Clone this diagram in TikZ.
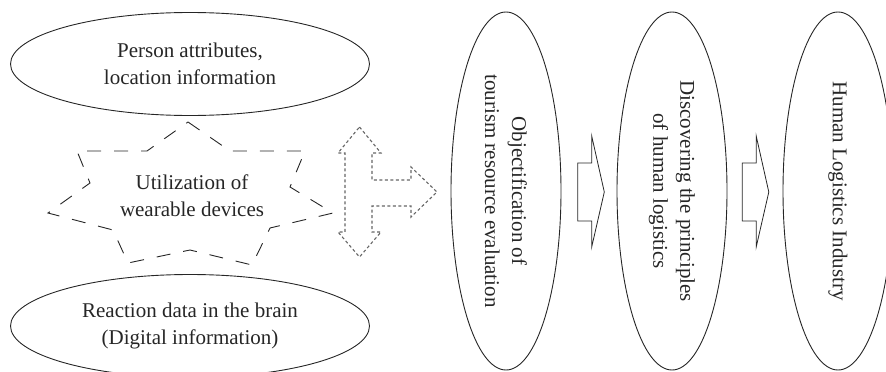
\documentclass[tikz,border=0pt]{standalone}
\usepackage{fontspec}
\setmainfont{Liberation Serif}
\usetikzlibrary{shapes.geometric}
\begin{document}
\begin{tikzpicture}[x=1pt,y=-1pt,
  txt/.style={font=\fontsize{21}{27}\selectfont, align=center, text=black!85},
  oval/.style={draw=black!85, line width=0.9pt, ellipse, inner sep=0pt, txt},
  starline/.style={draw=black!85, line width=0.9pt, dash pattern=on 14pt off 13pt, line join=miter},
  dotline/.style={draw=black!60, line width=1.1pt, dash pattern=on 3pt off 2.5pt},
  blockarrow/.style={draw=black!85, line width=0.8pt, line join=miter}]
\useasboundingbox (0,0) rectangle (886,372);

% left ovals
\node[oval, minimum width=359pt, minimum height=103pt] (top) at (190,64) {Person attributes,\\location information};
\node[oval, minimum width=359pt, minimum height=103pt] (bot) at (190,326) {Reaction data in the brain\\(Digital information)};

% star
\draw[starline] (188,122) -- (230,151) -- (305,151) -- (290,187) -- (333,213) -- (270,228)
  -- (252,265) -- (190,250) -- (128,263) -- (113,230) -- (48,213) -- (90,183)
  -- (77,151) -- (147,151) -- cycle;
\node[txt] (wear) at (192,196) {Utilization of\\wearable devices};

% dotted three-way arrow
\draw[dotline] (359.5,127) -- (381,153) -- (372,153) -- (372,180) -- (411,180) -- (411,167)
  -- (437,192) -- (411,217) -- (411,206) -- (372,206) -- (372,232) -- (381,232)
  -- (359.5,257) -- (338,232) -- (345,232) -- (345,153) -- (338,153) -- cycle;

% vertical ovals
\node[oval, rotate=-90, minimum width=358pt, minimum height=110pt] (obj) at (506,191) {Objectification of\\tourism resource evaluation};
\node[oval, rotate=-90, minimum width=358pt, minimum height=110pt] (disc) at (672,191) {Discovering the principles\\of human logistics};
\node[oval, rotate=-90, minimum width=358pt, minimum height=110pt] (ind) at (838,191) {Human Logistics Industry};

% block arrows
\draw[blockarrow] (577.7,163) -- (591.7,163) -- (591.7,136) -- (604.3,192) -- (591.7,247) -- (591.7,221) -- (577.7,221) -- cycle;
\draw[blockarrow] (742.2,163) -- (756.2,163) -- (756.2,136) -- (768.8,192) -- (756.2,247) -- (756.2,221) -- (742.2,221) -- cycle;
\end{tikzpicture}
\end{document}
